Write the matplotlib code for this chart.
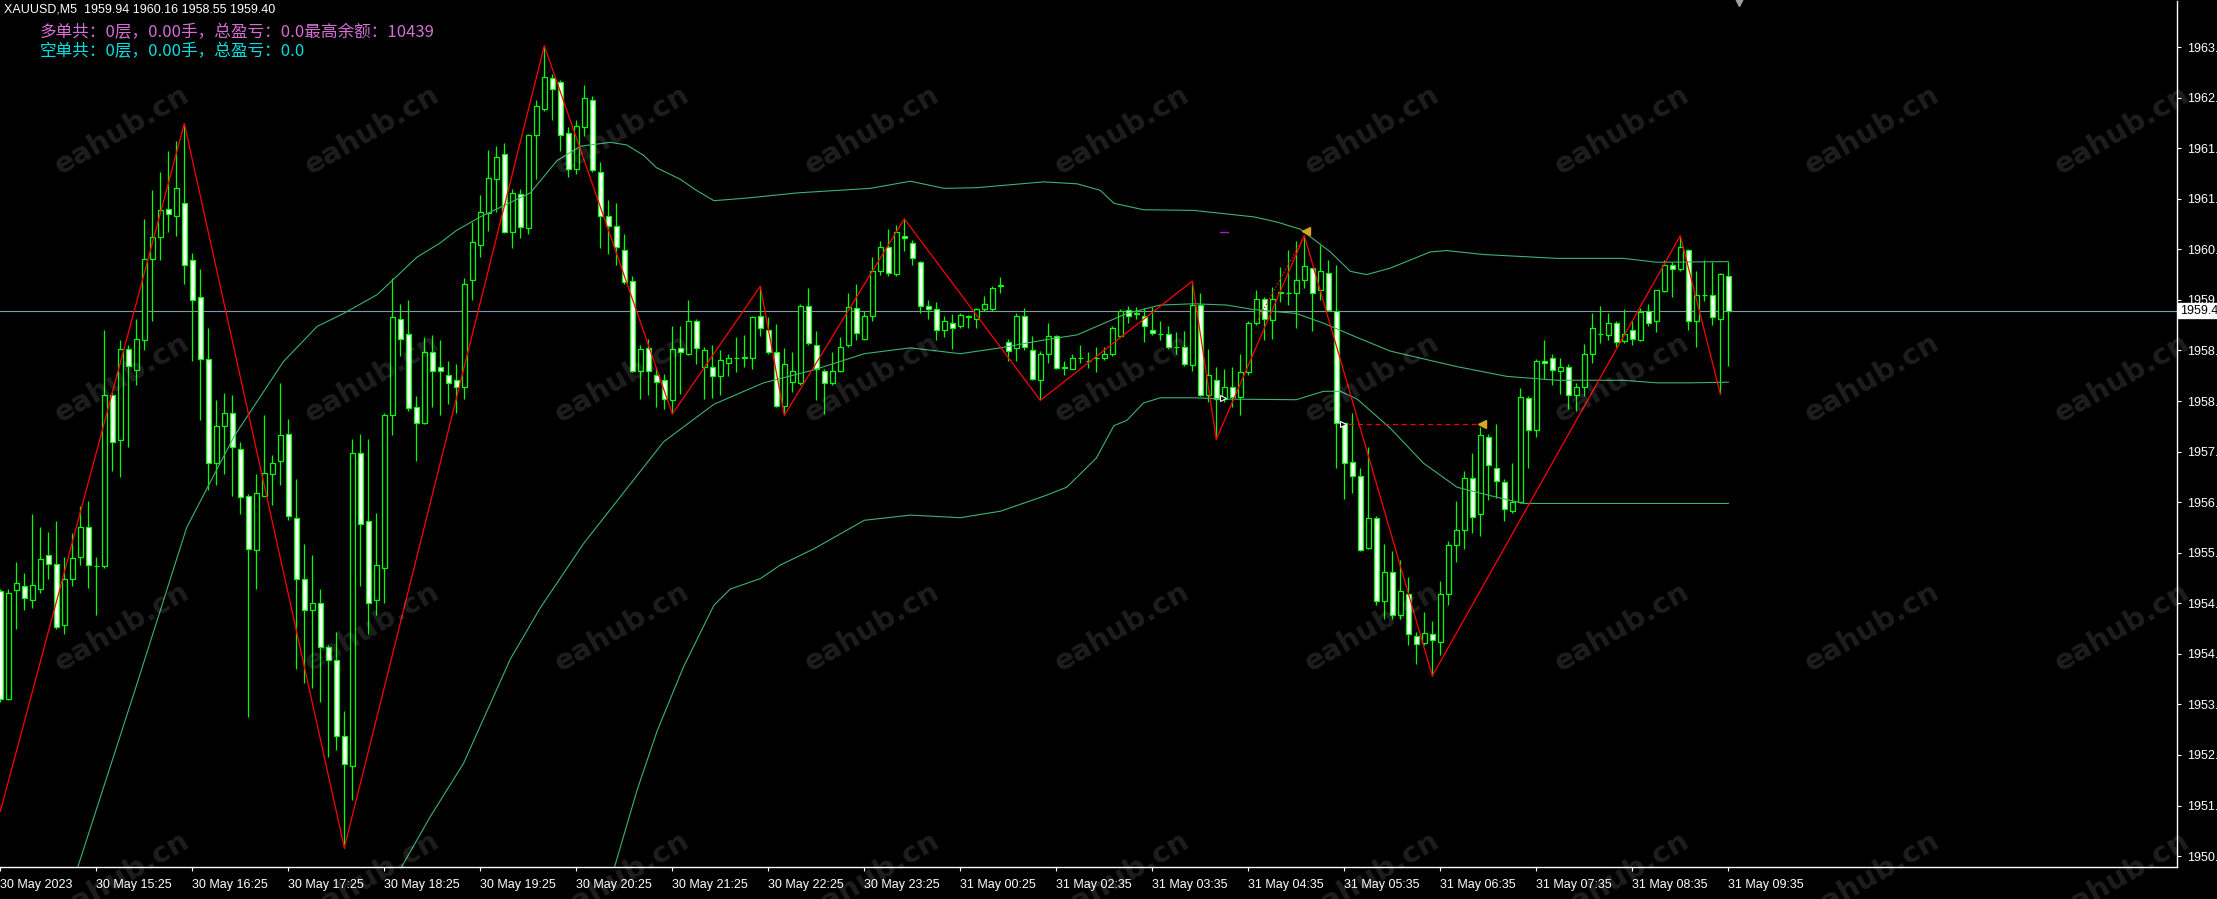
import matplotlib
matplotlib.use('Agg')
import matplotlib.pyplot as plt
import numpy as np

# XAUUSD M5 bars (left to right)
opens = [1955.08, 1953.41, 1955.09, 1955.15, 1954.94, 1955.11, 1955.63, 1955.50, 1954.55, 1955.27,
         1955.60, 1956.06, 1955.47, 1955.46, 1958.10, 1957.41, 1958.81, 1958.49, 1958.95, 1960.20,
         1960.54, 1960.97, 1960.87, 1961.06, 1960.19, 1959.61, 1958.66, 1957.05, 1957.63, 1957.83,
         1957.27, 1956.55, 1955.71, 1956.55, 1956.88, 1957.08, 1957.50, 1956.20, 1955.27, 1954.78,
         1954.90, 1954.22, 1954.01, 1952.84, 1952.38, 1957.21, 1956.16, 1954.94, 1955.44, 1957.79,
         1959.28, 1959.05, 1957.91, 1957.67, 1958.76, 1958.54, 1958.41, 1958.33, 1958.23, 1959.87,
         1960.41, 1960.91, 1961.44, 1961.82, 1960.62, 1961.20, 1960.68, 1962.11, 1962.52, 1963.00,
         1962.93, 1962.15, 1961.59, 1962.23, 1962.65, 1961.55, 1960.87, 1960.71, 1960.34, 1959.86,
         1958.47, 1958.83, 1958.41, 1958.33, 1958.02, 1958.83, 1958.74, 1959.25, 1958.54, 1958.54,
         1958.39, 1958.60, 1958.68, 1958.68, 1958.68, 1959.32, 1959.10, 1958.77, 1957.93, 1958.31,
         1958.29, 1959.47, 1958.88, 1958.48, 1958.29, 1958.48, 1958.88, 1959.44, 1958.97, 1959.32,
         1960.01, 1960.38, 1959.97, 1960.55, 1960.44, 1960.16, 1959.48, 1959.43, 1959.10, 1959.22,
         1959.17, 1959.32, 1959.28, 1959.43, 1959.43, 1959.79, 1958.92, 1958.83, 1959.32, 1958.80,
         1958.33, 1958.73, 1959.01, 1958.53, 1958.51, 1958.67, 1958.62, 1958.68, 1958.68, 1958.73,
         1959.02, 1959.42, 1959.36, 1959.32, 1959.10, 1959.05, 1959.05, 1958.85, 1958.84, 1958.56,
         1959.49, 1958.11, 1958.33, 1958.04, 1958.23, 1958.07, 1958.45, 1959.21, 1959.58, 1959.26,
         1959.68, 1959.67, 1959.67, 1959.88, 1960.06, 1959.72, 1959.98, 1959.40, 1957.67, 1957.07,
         1956.86, 1955.75, 1956.20, 1954.92, 1955.37, 1954.71, 1955.04, 1954.39, 1954.27, 1954.42,
         1954.30, 1955.03, 1955.79, 1956.02, 1956.83, 1956.26, 1957.46, 1956.97, 1956.76, 1956.31,
         1956.45, 1958.06, 1957.56, 1958.63, 1958.68, 1958.48, 1958.54, 1958.10, 1958.23, 1958.74,
         1959.05, 1959.03, 1959.21, 1958.93, 1959.11, 1958.95, 1959.40, 1959.24, 1959.71, 1960.11,
         1960.04, 1960.34, 1959.24, 1959.65, 1959.65, 1959.28, 1959.94]
highs = [1955.11, 1955.11, 1955.52, 1955.36, 1956.26, 1956.07, 1955.99, 1956.16, 1955.60, 1955.98,
         1956.39, 1956.47, 1955.60, 1959.11, 1958.16, 1958.95, 1958.87, 1959.28, 1960.81, 1961.26,
         1961.55, 1961.87, 1962.02, 1962.29, 1960.29, 1960.05, 1959.13, 1958.02, 1958.14, 1958.10,
         1957.38, 1956.57, 1956.88, 1957.79, 1957.17, 1958.29, 1957.73, 1956.80, 1955.81, 1955.63,
         1955.11, 1954.24, 1954.45, 1953.23, 1957.42, 1957.50, 1957.42, 1956.28, 1957.83, 1959.90,
         1959.50, 1959.57, 1958.08, 1958.99, 1959.03, 1958.95, 1958.62, 1958.58, 1959.90, 1960.77,
         1961.18, 1961.88, 1961.94, 1961.99, 1961.28, 1961.28, 1962.13, 1962.65, 1963.49, 1963.06,
         1962.96, 1962.23, 1962.34, 1962.89, 1962.72, 1961.69, 1961.11, 1961.07, 1960.58, 1959.94,
         1958.88, 1958.97, 1958.54, 1958.43, 1959.17, 1959.16, 1959.57, 1959.28, 1958.84, 1958.87,
         1958.80, 1958.74, 1958.99, 1959.03, 1959.32, 1959.78, 1959.30, 1959.20, 1958.83, 1958.77,
         1959.51, 1959.75, 1959.09, 1958.50, 1958.76, 1958.99, 1959.67, 1959.82, 1959.40, 1960.23,
         1960.48, 1960.67, 1960.73, 1960.82, 1960.49, 1960.17, 1959.57, 1959.54, 1959.32, 1959.35,
         1959.36, 1959.34, 1959.45, 1959.63, 1959.79, 1959.92, 1958.97, 1959.36, 1959.45, 1959.02,
         1958.78, 1959.22, 1959.03, 1958.62, 1958.74, 1958.87, 1958.76, 1958.85, 1958.85, 1959.16,
         1959.43, 1959.47, 1959.46, 1959.45, 1959.46, 1959.24, 1959.16, 1959.07, 1959.09, 1959.86,
         1959.68, 1958.81, 1958.54, 1958.50, 1958.54, 1958.74, 1959.24, 1959.72, 1959.61, 1959.77,
         1960.08, 1960.34, 1960.48, 1960.56, 1960.06, 1960.41, 1960.19, 1960.11, 1957.67, 1957.83,
         1956.97, 1957.30, 1956.24, 1955.81, 1955.69, 1955.56, 1955.29, 1954.45, 1954.75, 1954.61,
         1955.23, 1955.85, 1956.47, 1956.93, 1957.21, 1957.61, 1957.50, 1957.65, 1956.80, 1957.05,
         1958.21, 1958.08, 1958.66, 1958.95, 1958.74, 1958.68, 1958.58, 1958.29, 1958.89, 1959.36,
         1959.47, 1959.36, 1959.24, 1959.43, 1959.24, 1959.45, 1959.51, 1959.73, 1960.19, 1960.15,
         1960.56, 1960.35, 1960.01, 1960.19, 1960.15, 1959.98, 1960.16]
lows = [1953.37, 1953.40, 1954.49, 1954.78, 1954.82, 1955.05, 1955.27, 1954.49, 1954.41, 1955.15,
        1955.48, 1955.13, 1954.71, 1955.44, 1956.93, 1956.84, 1957.30, 1958.25, 1958.80, 1959.24,
        1960.19, 1960.62, 1960.56, 1959.82, 1958.62, 1957.71, 1956.64, 1956.72, 1956.88, 1956.54,
        1956.26, 1953.13, 1955.11, 1956.54, 1956.41, 1956.72, 1956.18, 1953.87, 1953.66, 1953.58,
        1953.37, 1952.52, 1952.63, 1951.12, 1951.85, 1955.15, 1954.41, 1954.71, 1954.89, 1957.49,
        1958.70, 1957.86, 1957.09, 1957.65, 1957.92, 1957.79, 1957.96, 1957.83, 1958.04, 1959.57,
        1960.23, 1960.64, 1960.93, 1960.60, 1960.37, 1960.52, 1960.58, 1961.43, 1962.48, 1962.35,
        1961.86, 1961.47, 1961.51, 1962.09, 1961.55, 1960.37, 1960.27, 1960.11, 1959.82, 1958.45,
        1958.04, 1958.10, 1957.92, 1957.88, 1957.81, 1958.12, 1958.72, 1958.58, 1958.04, 1958.06,
        1958.10, 1958.39, 1958.45, 1958.54, 1958.51, 1959.02, 1958.74, 1957.92, 1957.79, 1958.15,
        1958.25, 1958.88, 1958.02, 1957.81, 1958.25, 1958.45, 1958.84, 1958.95, 1958.95, 1959.24,
        1959.96, 1959.94, 1959.94, 1960.33, 1960.11, 1959.36, 1959.28, 1958.95, 1958.99, 1958.81,
        1959.14, 1959.13, 1959.13, 1959.40, 1959.40, 1959.67, 1958.62, 1958.62, 1958.80, 1958.33,
        1958.02, 1958.60, 1958.51, 1958.41, 1958.50, 1958.60, 1958.52, 1958.45, 1958.64, 1958.70,
        1958.99, 1959.21, 1959.28, 1958.92, 1959.03, 1958.95, 1958.81, 1958.74, 1958.55, 1958.48,
        1958.08, 1958.00, 1957.42, 1958.00, 1957.92, 1957.79, 1958.41, 1959.18, 1958.95, 1958.97,
        1959.54, 1959.49, 1959.13, 1959.76, 1959.09, 1959.57, 1959.40, 1956.98, 1956.50, 1956.59,
        1955.69, 1955.73, 1954.86, 1954.65, 1954.64, 1954.65, 1954.24, 1953.95, 1954.24, 1953.77,
        1954.10, 1954.86, 1955.52, 1955.73, 1955.98, 1955.93, 1956.49, 1956.51, 1956.16, 1956.29,
        1956.43, 1956.97, 1957.46, 1958.35, 1958.25, 1958.12, 1957.89, 1957.86, 1958.08, 1958.60,
        1958.91, 1958.95, 1958.85, 1958.91, 1958.88, 1958.93, 1959.17, 1959.07, 1959.69, 1959.61,
        1960.02, 1959.10, 1958.85, 1959.55, 1959.18, 1958.12, 1958.55]
closes = [1953.41, 1955.05, 1955.21, 1954.97, 1955.17, 1955.58, 1955.50, 1954.53, 1955.27, 1955.59,
          1956.07, 1955.48, 1955.46, 1958.10, 1957.38, 1958.81, 1958.55, 1958.97, 1960.20, 1960.54,
          1960.96, 1960.89, 1961.30, 1960.11, 1959.57, 1958.66, 1957.05, 1957.63, 1957.83, 1957.30,
          1956.53, 1955.73, 1956.59, 1956.90, 1957.05, 1957.49, 1956.24, 1955.27, 1954.78, 1954.89,
          1954.22, 1954.01, 1952.84, 1952.41, 1957.21, 1956.12, 1954.90, 1955.48, 1957.79, 1959.30,
          1958.97, 1957.90, 1957.67, 1958.76, 1958.48, 1958.47, 1958.29, 1958.22, 1959.82, 1960.46,
          1960.93, 1961.45, 1961.78, 1960.62, 1961.22, 1960.70, 1962.11, 1962.56, 1963.01, 1962.83,
          1962.12, 1961.59, 1962.25, 1962.68, 1961.57, 1960.87, 1960.71, 1960.39, 1959.84, 1958.48,
          1958.81, 1958.47, 1958.31, 1958.04, 1958.81, 1958.76, 1959.25, 1958.83, 1958.80, 1958.40,
          1958.64, 1958.68, 1958.68, 1958.69, 1959.30, 1959.13, 1958.77, 1957.94, 1958.58, 1958.48,
          1959.47, 1958.91, 1958.51, 1958.29, 1958.48, 1958.85, 1959.46, 1959.06, 1959.32, 1960.01,
          1960.39, 1959.98, 1960.62, 1960.52, 1960.21, 1959.47, 1959.43, 1959.10, 1959.24, 1959.14,
          1959.34, 1959.31, 1959.43, 1959.51, 1959.76, 1959.80, 1958.78, 1959.32, 1958.85, 1958.35,
          1958.73, 1959.02, 1958.52, 1958.52, 1958.67, 1958.68, 1958.62, 1958.68, 1958.74, 1959.13,
          1959.40, 1959.32, 1959.35, 1959.17, 1959.06, 1959.05, 1958.85, 1958.85, 1958.58, 1959.49,
          1958.11, 1958.41, 1958.04, 1958.23, 1958.07, 1958.45, 1959.21, 1959.59, 1959.28, 1959.58,
          1959.69, 1959.68, 1959.88, 1960.09, 1959.68, 1960.01, 1959.42, 1957.67, 1957.05, 1956.86,
          1955.71, 1956.21, 1954.92, 1955.37, 1954.71, 1955.08, 1954.41, 1954.26, 1954.43, 1954.32,
          1955.03, 1955.79, 1956.02, 1956.83, 1956.22, 1957.49, 1957.02, 1956.78, 1956.35, 1956.45,
          1958.07, 1957.56, 1958.62, 1958.60, 1958.49, 1958.54, 1958.11, 1958.23, 1958.74, 1959.13,
          1959.05, 1959.21, 1958.92, 1959.05, 1958.97, 1959.38, 1959.22, 1959.72, 1960.11, 1960.05,
          1960.39, 1959.24, 1959.65, 1959.64, 1959.30, 1959.97, 1959.40]

# time axis labels, one every 12 bars
time_labels = ['30 May 2023', '30 May 15:25', '30 May 16:25', '30 May 17:25', '30 May 18:25',
               '30 May 19:25', '30 May 20:25', '30 May 21:25', '30 May 22:25', '30 May 23:25',
               '31 May 00:25', '31 May 02:35', '31 May 03:35', '31 May 04:35', '31 May 05:35',
               '31 May 06:35', '31 May 07:35', '31 May 08:35', '31 May 09:35']
label_bars = [0, 12, 24, 36, 48, 60, 72, 84, 96, 108, 120, 132, 144, 156, 168, 180, 192, 204, 216]

price_ticks = [1950.99, 1951.77, 1952.55, 1953.33, 1954.11, 1954.89, 1955.67, 1956.45, 1957.23,
               1958.01, 1958.79, 1959.57, 1960.35, 1961.13, 1961.91, 1962.69, 1963.47]

# band lines (bar position, price)
upper_bar = [9.6, 16.7, 23.3, 29.2, 35.4, 39.6, 42.9, 47.1, 52.1, 55.0, 57.0, 60.0, 66.25, 69.6,
             72.5, 76.25, 78.3, 80.4, 82.0, 85.0, 87.0, 89.2, 93.3, 99.6, 108.75, 113.75, 118.0,
             122.0, 130.4, 134.6, 137.5, 139.2, 142.9, 149.2, 156.7, 159.6, 162.5, 166.25, 168.75,
             170.8, 173.75, 178.75, 180.8, 185.4, 194.6, 202.9, 207.1, 216.0]
upper_val = [1950.79, 1953.50, 1956.06, 1957.46, 1958.62, 1959.16, 1959.36, 1959.65, 1960.23, 1960.45,
             1960.64, 1960.85, 1961.22, 1961.72, 1961.94, 1962.00, 1961.96, 1961.80, 1961.61, 1961.43,
             1961.26, 1961.10, 1961.14, 1961.22, 1961.29, 1961.40, 1961.29, 1961.30, 1961.39, 1961.36,
             1961.26, 1961.06, 1960.96, 1960.95, 1960.85, 1960.77, 1960.66, 1960.31, 1960.01, 1959.96,
             1960.06, 1960.31, 1960.33, 1960.27, 1960.21, 1960.21, 1960.15, 1960.16]
middle_bar = [50.0, 53.75, 57.9, 63.75, 67.5, 72.9, 77.1, 82.9, 89.2, 95.4, 101.7, 108.0, 113.75,
              120.0, 125.0, 130.4, 134.6, 140.8, 145.0, 149.2, 153.3, 156.7, 162.0, 165.4, 169.6,
              173.75, 177.9, 182.1, 188.3, 194.6, 202.9, 207.1, 211.25, 216.0]
middle_val = [1950.79, 1951.60, 1952.42, 1954.03, 1954.82, 1955.81, 1956.47, 1957.38, 1957.96, 1958.29,
              1958.49, 1958.74, 1958.83, 1958.74, 1958.83, 1958.95, 1959.03, 1959.36, 1959.49, 1959.51,
              1959.49, 1959.42, 1959.36, 1959.21, 1958.99, 1958.78, 1958.66, 1958.54, 1958.39, 1958.33,
              1958.33, 1958.29, 1958.29, 1958.30]
lower_bar = [76.7, 79.6, 82.1, 85.4, 89.2, 91.25, 95.0, 97.5, 101.7, 108.0, 113.75, 120.0, 125.0,
             130.4, 133.3, 137.0, 139.2, 140.8, 142.9, 145.0, 149.2, 153.3, 162.0, 165.4, 167.5,
             169.6, 173.75, 177.9, 182.1, 186.25, 190.4, 198.75, 216.0]
lower_val = [1950.79, 1952.01, 1952.92, 1953.91, 1954.86, 1955.11, 1955.27, 1955.48, 1955.73, 1956.17,
             1956.25, 1956.21, 1956.31, 1956.54, 1956.68, 1957.13, 1957.63, 1957.71, 1957.98, 1958.06,
             1958.06, 1958.04, 1958.03, 1958.16, 1958.16, 1958.04, 1957.59, 1957.05, 1956.68, 1956.55,
             1956.43, 1956.43, 1956.43]

# zigzag pivots
zig_bar = [0, 23, 43, 68, 84, 95, 98, 113, 130, 149, 152, 163, 179, 210, 215]
zig_val = [1951.68, 1962.29, 1951.12, 1963.49, 1957.81, 1959.78, 1957.79, 1960.82, 1958.02,
           1959.86, 1957.42, 1960.56, 1953.77, 1960.56, 1958.12]
# dotted leg drawn next to the zigzag before the 04:35 top
dot_bar = [157, 163]
dot_val = [1959.22, 1960.56]

bid = 1959.40
level_bars = [167.5, 185.2]
level_price = 1957.65

header = 'XAUUSD,M5  1959.94 1960.16 1958.55 1959.40'
long_info = '多单共：0层，0.00手，总盈亏：0.0最高余额：10439'
short_info = '空单共：0层，0.00手，总盈亏：0.0'

W, H = 2217, 899
fig = plt.figure(figsize=(W / 100, H / 100), dpi=100, facecolor='black')
ax = fig.add_axes([0, 32.5 / H, 2177 / W, 865.5 / H])
ax.set_facecolor('black')

n = len(opens)
idx = np.arange(n)
o = np.array(opens)
c = np.array(closes)
bear = c < o
lime = '#00ff00'

ax.axhline(bid, color='#8597a8', lw=0.8, zorder=1)
ax.vlines(idx, lows, highs, color=lime, lw=0.9, zorder=2)
ax.bar(idx, np.abs(c - o), bottom=np.minimum(o, c), width=0.6,
       color=np.where(bear, 'white', 'black'), edgecolor=lime, linewidth=0.9, zorder=3)

band_col = '#3cb371'
ax.plot(upper_bar, upper_val, color=band_col, lw=0.8, zorder=4)
ax.plot(middle_bar, middle_val, color=band_col, lw=0.8, zorder=4)
ax.plot(lower_bar, lower_val, color=band_col, lw=0.8, zorder=4)

ax.plot(zig_bar, zig_val, color='red', lw=0.9, zorder=5)
ax.plot(dot_bar, dot_val, color='red', lw=0.8, ls=(0, (1.5, 1.5)), zorder=5)
ax.plot(level_bars, [level_price, level_price], color='red', lw=0.9, ls=(0, (4, 3)), zorder=5)
ax.plot([163.2, level_bars[1]], [1960.63, level_price], ls='none', marker='<', ms=6,
        color='#daa520', zorder=6)
ax.plot([level_bars[0] + 0.3, 152.8], [level_price, 1958.06], ls='none', marker='>', ms=5,
        mfc='black', mec='white', mew=0.8, zorder=6)
ax.plot([152.5, 153.4], [1960.62, 1960.62], color='#a020c0', lw=1.0, zorder=5)

ax.set_xlim(-0.04, 2177 / 8 - 0.04)
ax.set_ylim(1950.83, 1964.18)

for s in ['top', 'left']:
    ax.spines[s].set_visible(False)
for s in ['right', 'bottom']:
    ax.spines[s].set_color('white')
    ax.spines[s].set_linewidth(1.0)

ax.yaxis.tick_right()
ax.set_yticks(price_ticks)
ax.set_yticklabels(['%.2f' % p for p in price_ticks])
ax.tick_params(axis='y', colors='white', length=3, width=0.8, pad=4, labelsize=9)
ax.set_xticks(label_bars)
ax.set_xticklabels(time_labels, ha='left')
ax.tick_params(axis='x', colors='white', length=3, width=0.8, pad=6, labelsize=9)
for lab in ax.get_xticklabels() + ax.get_yticklabels():
    lab.set_fontfamily('Liberation Sans')

ax.annotate('%.2f' % bid, xy=(1.0, bid), xycoords=('axes fraction', 'data'),
            xytext=(2, 0), textcoords='offset points', ha='left', va='center',
            fontsize=9, family='Liberation Sans', color='black',
            bbox=dict(boxstyle='square,pad=0.12', fc='white', ec='white'), annotation_clip=False)

# chart shift marker at the top
ax.plot([1739 / 2177], [1.0], transform=ax.transAxes, marker='v', ms=7, color='#a0a0a0',
        clip_on=False, zorder=7)

fig.text(4 / W, 1 - 10 / H, header, color='white', fontsize=9, family='Liberation Sans',
         va='center', ha='left')
fig.text(40 / W, 1 - 33 / H, long_info, color='#d46fd4', fontsize=12,
         family=['Noto Sans CJK SC', 'DejaVu Sans'], va='center', ha='left')
fig.text(40 / W, 1 - 52 / H, short_info, color='#00e0e0', fontsize=12,
         family=['Noto Sans CJK SC', 'DejaVu Sans'], va='center', ha='left')

# watermark grid
for cy in [130, 378, 627, 876]:
    for cx in range(122, 2300, 250):
        fig.text(cx / W, 1 - cy / H, 'eahub.cn', color='white', alpha=0.12, fontsize=21,
                 fontweight='bold', family='DejaVu Sans', rotation=30, ha='center', va='center',
                 rotation_mode='anchor', zorder=10)

fig.savefig('out.png', dpi=100, facecolor='black')
